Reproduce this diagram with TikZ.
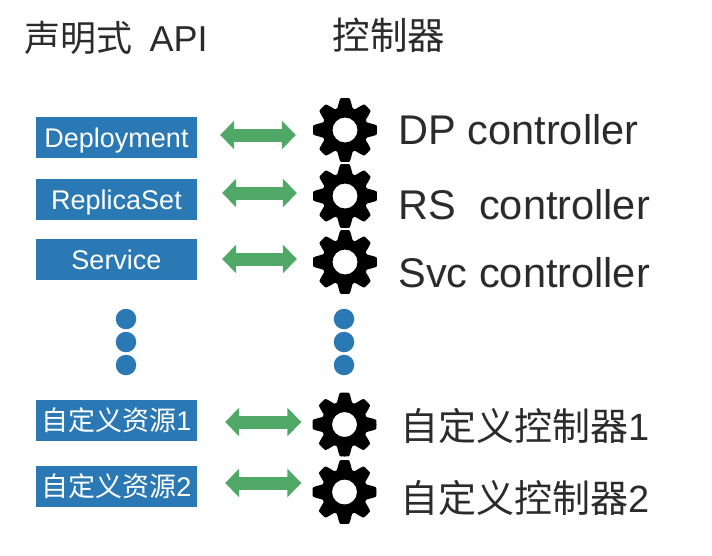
\documentclass[tikz,border=0pt]{standalone}
\usepackage{fontspec}
\setmainfont{Liberation Sans}
\newfontfamily\cjk{Noto Sans CJK SC}
\usetikzlibrary{arrows.meta}
\definecolor{boxblue}{HTML}{2A78B4}
\definecolor{arrowgreen}{HTML}{4FA866}
\definecolor{labelgray}{HTML}{2B2B2B}
\tikzstyle{every path}=[line cap=butt,line join=round]
\tikzstyle{apibox}=[fill=boxblue,text=white,font=\fontsize{27}{27}\selectfont,
  minimum width=161pt,minimum height=41pt,inner sep=0pt,text height=20pt,text depth=0pt]
\tikzstyle{gearnode}=[circle,minimum size=64pt,inner sep=0pt]
\tikzstyle{bluedot}=[circle,fill=boxblue,minimum size=20.5pt,inner sep=0pt]
\tikzstyle{flowarrow}=[arrowgreen,line width=13pt,
  {Triangle[length=14pt,width=28pt]}-{Triangle[length=14pt,width=28pt]}]
\tikzstyle{title}=[anchor=west,text=labelgray,font=\fontsize{36}{36}\selectfont]
\tikzstyle{ctrl}=[anchor=west,text=labelgray,font=\fontsize{41.5}{42}\selectfont]
\tikzstyle{ctrlcjk}=[anchor=west,text=labelgray,font=\fontsize{38}{38}\selectfont]

\begin{document}
\begin{tikzpicture}[x=1pt,y=-1pt]
  \useasboundingbox (0,0) rectangle (712,555);

  % headers
  \node[title] (apititle) at (21,38) {{\cjk 声明式}\hspace{7pt} API};
  \node[title,font=\fontsize{37.5}{38}\selectfont] (ctrltitle) at (329,35) {\cjk 控制器};

  % resources
  \node[apibox] (boxDP) at (116.5,137.5) {Deployment};
  \node[apibox] (boxRS) at (116.5,199) {ReplicaSet};
  \node[apibox] (boxSvc) at (116.5,259.5) {Service};
  \node[apibox] (boxOne) at (116.5,420.5) {{\cjk 自定义资源}1};
  \node[apibox] (boxTwo) at (116.5,486) {{\cjk 自定义资源}2};

  % controllers
  \node[gearnode] (gearDP) at (345,130) {};
  \node[gearnode] (gearRS) at (345,196) {};
  \node[gearnode] (gearSvc) at (345,262) {};
  \node[gearnode] (gearOne) at (344.5,424.5) {};
  \node[gearnode] (gearTwo) at (344.5,492) {};

  \foreach \gearname in {gearDP,gearRS,gearSvc,gearOne,gearTwo}
  \fill[black,even odd rule,shift={(\gearname.center)}]
  plot[domain=0:360,samples=241,variable=\t]
  ({(27.5+4.5*max(-1,min(1,1.5*cos(8*\t)+0.4)))*cos(\t)},
   {(27.5+4.5*max(-1,min(1,1.5*cos(8*\t)+0.4)))*sin(\t)}) -- cycle
  (0,0) circle (12.5);

  % arrows
  \foreach \nm/\ay/\xa/\xb in {DP/135/23/17,RS/193/25/16,Svc/259/25/16,
    One/422/28/11,Two/483/28/11}
  \draw[flowarrow] ([xshift=\xa pt]box\nm.east |- 0,\ay) -- ([xshift=-\xb pt]gear\nm.west |- 0,\ay);

  % dots
  \foreach \i/\yy in {1/319,2/342,3/365}
  {
    \node[bluedot] (dotL\i) at (126,\yy) {};
    \node[bluedot] (dotR\i) at (344,\yy) {};
  }

  % controller names
  \node[ctrl] (nameDP) at (395,130) {DP controller};
  \node[ctrl] (nameRS) at (395,205) {RS\ \ controller};
  \node[ctrl] (nameSvc) at (395,273) {Svc controller};
  \node[ctrlcjk] (nameOne) at (397,426) {{\cjk 自定义控制器}1};
  \node[ctrlcjk] (nameTwo) at (397,498) {{\cjk 自定义控制器}2};
\end{tikzpicture}
\end{document}
